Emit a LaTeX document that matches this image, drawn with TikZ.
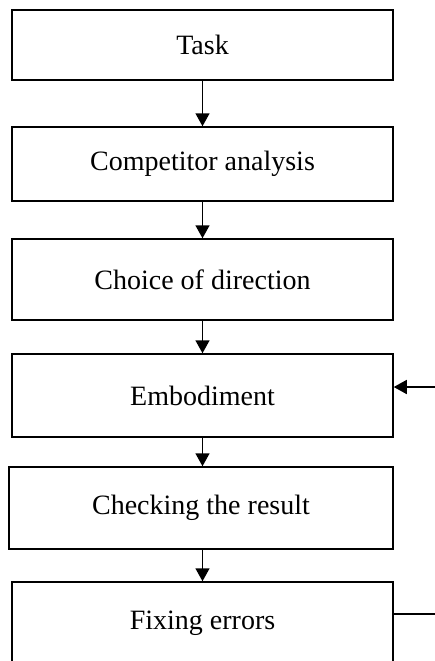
\documentclass[tikz,border=0pt]{standalone}
\usepackage{fontspec}
\setmainfont{Liberation Serif}
\usetikzlibrary{arrows.meta}
\begin{document}
\begin{tikzpicture}[x=1pt,y=-1pt,
  stepbox/.style={draw, line width=1.5pt, rectangle, inner sep=0pt, font=\fontsize{28}{32}\selectfont},
  flow/.style={line width=1.5pt, -{Triangle[length=13pt,width=14pt]}},
  plain/.style={line width=1.5pt}]
\useasboundingbox (0,0) rectangle (435,661);
\clip (0,0) rectangle (435,661);
\node[stepbox, minimum width=381pt, minimum height=70pt] (n1) at (202.5,45) {Task};
\node[stepbox, minimum width=381pt, minimum height=74pt] (n2) at (202.5,164) {Competitor analysis};
\node[stepbox, minimum width=381pt, minimum height=81pt] (n3) at (202.5,279.5) {Choice of direction};
\node[stepbox, minimum width=381pt, minimum height=83pt] (n4) at (202.5,395.5) {Embodiment};
\node[stepbox, minimum width=384pt, minimum height=82pt] (n5) at (201,508) {Checking the result};
\node[stepbox, minimum width=381pt, minimum height=82pt] (n6) at (202.5,623) {Fixing errors};
\coordinate (r1) at (436,387);
\coordinate (r2) at (436,614);
\draw[flow] (n1.south) -- (n2.north);
\draw[flow] (n2.south) -- (n3.north);
\draw[flow] (n3.south) -- (n4.north);
\draw[flow] (n4.south) -- (n4.south |- n5.north);
\draw[flow] (n4.south |- n5.south) -- (n4.south |- n6.north);
\draw[flow] (r1) -- (r1 -| n4.east);
\draw[plain] (n6.east |- r2) -- (r2);
\end{tikzpicture}
\end{document}
